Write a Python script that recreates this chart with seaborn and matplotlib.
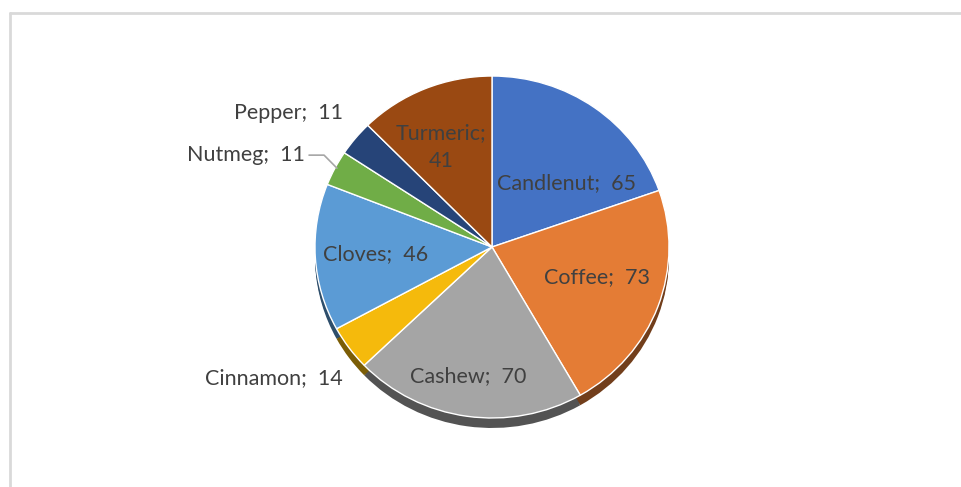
#!/usr/bin/env python3
"""Pie chart of spice crops with a shallow 3D edge
"""

import numpy as np
import matplotlib
matplotlib.use("Agg")
import matplotlib.pyplot as plt
import seaborn as sns

# data
spices = ["Candlenut", "Coffee", "Cashew", "Cinnamon", "Cloves", "Nutmeg", "Pepper", "Turmeric"]
amounts = [65, 73, 70, 14, 46, 11, 11, 41]
slice_colors = ["#4472C4", "#E47C35", "#A5A5A5", "#F5BA0C", "#5B9BD5", "#70AD47", "#264478", "#9A4912"]

# label placement: (radius fraction, angle offset from slice middle, inside?)
label_layout = {
    "Candlenut": (0.56, -13, True),
    "Coffee": (0.62, 4, True),
    "Cashew": (0.77, -2, True),
    "Cinnamon": (1.14, 6, False),
    "Cloves": (0.66, 0, True),
    "Nutmeg": (1.185, 0.5, False),
    "Pepper": (1.15, -3.5, False),
    "Turmeric": (0.65, 4, True),
}


def main():
    sns.set_theme(style="white")
    plt.rcParams["font.family"] = ["Lato", "DejaVu Sans"]

    W, H, DPI = 961, 487, 100
    fig = plt.figure(figsize=(W / DPI, H / DPI), dpi=DPI)
    ax = fig.add_axes([0, 0, 1, 1])

    squash = 0.966          # slight tilt of the pie
    cx, cy = 492, (H - 247) / squash
    R = 177
    depth = 10 / squash

    palette = sns.color_palette(slice_colors)
    dark = [tuple(c * 0.5 for c in col) for col in palette]

    # side of the disc
    for k in np.linspace(0, depth, 6)[1:]:
        ax.pie(amounts, colors=dark, startangle=90, counterclock=False,
               radius=R, center=(cx, cy - k),
               wedgeprops=dict(edgecolor="none", linewidth=0))
    wedges, _ = ax.pie(amounts, colors=palette, startangle=90, counterclock=False,
                       radius=R, center=(cx, cy),
                       wedgeprops=dict(edgecolor="white", linewidth=1.0))

    ax.set_xlim(0, W)
    ax.set_ylim(0, H / squash)
    ax.set_aspect("auto")
    ax.axis("off")

    total = sum(amounts)
    start = 90.0
    for name, val in zip(spices, amounts):
        ext = val / total * 360
        mid = start - ext / 2
        start -= ext
        r, off, inside = label_layout[name]
        th = np.radians(mid + off)
        x = cx + r * R * np.cos(th)
        y = cy + r * R * np.sin(th)
        txt = f"{name};\n{val}" if name == "Turmeric" else f"{name};  {val}"
        if inside:
            ax.text(x, y, txt, ha="center", va="center", fontsize=15.5,
                    color="#404040", linespacing=1.5)
        else:
            ax.text(x, y, txt, ha="right", va="center", fontsize=15.5,
                    color="#404040")
            if name == "Nutmeg":
                ex = cx + R * np.cos(np.radians(mid))
                ey = cy + R * np.sin(np.radians(mid))
                ax.plot([x + 4, x + 19, ex + 2], [y, y, ey], color="#A6A6A6", lw=1.2)

    # chart frame
    fig.add_artist(plt.Line2D([10 / W, 1], [1 - 13 / H, 1 - 13 / H],
                              transform=fig.transFigure, color="#D9D9D9", lw=2))
    fig.add_artist(plt.Line2D([10 / W, 10 / W], [0, 1 - 13 / H],
                              transform=fig.transFigure, color="#D9D9D9", lw=2))

    fig.savefig("out.png", dpi=DPI, facecolor="white")


if __name__ == '__main__':
    main()
